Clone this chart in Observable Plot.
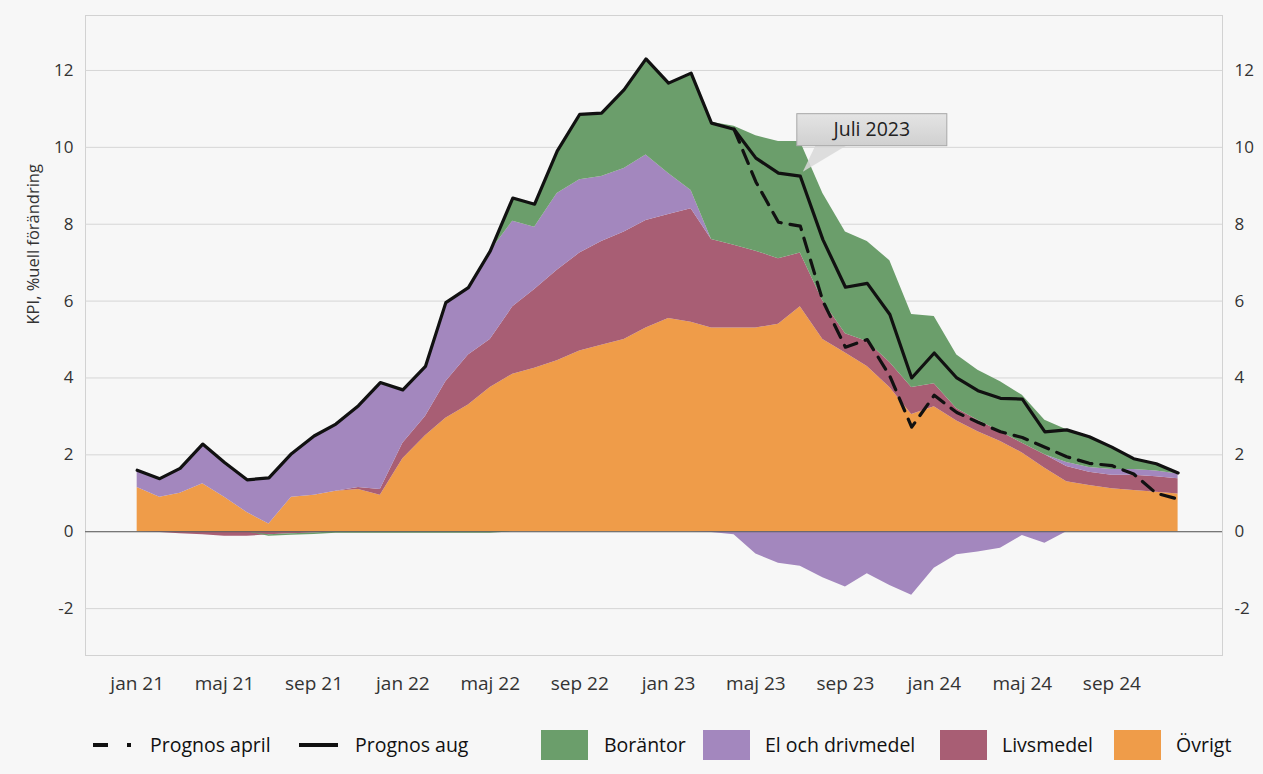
<!DOCTYPE html>
<html><head><meta charset="utf-8">
<script src="https://cdn.jsdelivr.net/npm/d3@7"></script>
<script src="https://cdn.jsdelivr.net/npm/@observablehq/plot@0.6"></script>
<style>
body{margin:0;background:#f7f7f7;font-family:"Open Sans",sans-serif;}
#wrap{width:1263px;}
#legend{position:relative;width:1263px;height:59px;font-size:19.5px;color:#111;}
.it{position:absolute;top:0;}
</style></head><body><div id="wrap"><div id="chart"></div><div id="legend"></div></div>
<script>
// ---- data ----
const months = ["2021-01","2021-02","2021-03","2021-04","2021-05","2021-06","2021-07","2021-08","2021-09","2021-10","2021-11","2021-12",
"2022-01","2022-02","2022-03","2022-04","2022-05","2022-06","2022-07","2022-08","2022-09","2022-10","2022-11","2022-12",
"2023-01","2023-02","2023-03","2023-04","2023-05","2023-06","2023-07","2023-08","2023-09","2023-10","2023-11","2023-12",
"2024-01","2024-02","2024-03","2024-04","2024-05","2024-06","2024-07","2024-08","2024-09","2024-10","2024-11","2024-12"];
const seriesNames = ["Övrigt","Livsmedel","El och drivmedel","Boräntor"];
const ovrigt = [1.15,0.9,1.0,1.25,0.9,0.5,0.2,0.9,0.95,1.05,1.1,0.95,
1.9,2.5,2.95,3.3,3.75,4.1,4.25,4.45,4.7,4.85,5.0,5.3,
5.55,5.45,5.3,5.3,5.3,5.4,5.85,5.0,4.65,4.3,3.75,3.05,
3.25,2.88,2.6,2.35,2.05,1.65,1.3,1.2,1.12,1.07,1.03,0.98];
const livsmedel = [0.0,-0.02,-0.05,-0.08,-0.12,-0.12,-0.08,-0.05,-0.03,0.0,0.05,0.15,
0.4,0.5,0.95,1.3,1.25,1.75,2.05,2.35,2.55,2.7,2.8,2.8,
2.7,2.95,2.3,2.15,2.0,1.7,1.4,1.0,0.5,0.65,0.65,0.7,
0.6,0.32,0.3,0.25,0.25,0.35,0.4,0.35,0.35,0.4,0.4,0.4];
const elDrivmedel = [0.45,0.48,0.65,1.03,0.9,0.85,1.2,1.13,1.54,1.75,2.13,2.78,
1.39,1.3,2.06,1.75,2.3,2.23,1.62,2.0,1.91,1.69,1.65,1.7,
1.07,0.48,-0.02,-0.08,-0.58,-0.82,-0.9,-1.2,-1.44,-1.09,-1.4,-1.65,
-0.95,-0.6,-0.53,-0.43,-0.1,-0.3,0.1,0.12,0.15,0.15,0.15,0.12];
const borantor = [0,0,0,0,0,0,-0.04,-0.04,-0.04,-0.04,-0.04,-0.04,
-0.04,-0.04,-0.04,-0.04,-0.04,0.6,0.6,1.1,1.7,1.65,2.05,2.5,
2.35,3.05,3.05,3.1,3.0,3.05,2.9,2.8,2.65,2.6,2.65,1.9,
1.75,1.4,1.3,1.3,1.25,0.9,0.85,0.8,0.58,0.28,0.19,0.03];
const prognosAug = [1.6,1.38,1.65,2.28,1.8,1.35,1.4,2.03,2.49,2.8,3.28,3.88,
3.69,4.3,5.96,6.35,7.3,8.68,8.52,9.9,10.86,10.89,11.5,12.3,
11.67,11.93,10.63,10.47,9.72,9.33,9.25,7.6,6.36,6.46,5.65,4.0,
4.65,4.0,3.67,3.47,3.45,2.6,2.65,2.47,2.2,1.9,1.77,1.53];
const prognosApril = [null,null,null,null,null,null,null,null,null,null,null,null,
null,null,null,null,null,null,null,null,null,null,null,null,
null,null,null,10.47,9.1,8.05,7.95,6.0,4.8,5.0,4.05,2.72,
3.55,3.1,2.85,2.6,2.45,2.2,1.95,1.78,1.72,1.5,1.0,0.85];
const yTicks = [-2,0,2,4,6,8,10,12];
const monthNames = ["jan","feb","mar","apr","maj","jun","jul","aug","sep","okt","nov","dec"];
const yLabel = "KPI, %uell förändring";
const annotationText = "Juli 2023";
const annotationMonth = "2023-07";
const colors = ["#ef9c49","#a85e74","#a387be","#6b9e6b"];

// ---- build tables ----
const parse = d3.utcParse("%Y-%m");
const dates = months.map(parse);
const seriesValues = [ovrigt, livsmedel, elDrivmedel, borantor];
const posRows = [], negRows = [];
seriesNames.forEach((s, i) => seriesValues[i].forEach((v, j) => {
  posRows.push({date: dates[j], series: s, value: Math.max(v, 0)});
  negRows.push({date: dates[j], series: s, value: Math.min(v, 0)});
}));
const augRows = dates.map((d, j) => ({date: d, value: prognosAug[j]}));
const aprRows = dates.map((d, j) => ({date: d, value: prognosApril[j]}));
const xTicks = dates.filter((d, j) => j % 4 === 0);
const fmt = d => `${monthNames[d.getUTCMonth()]} ${String(d.getUTCFullYear()).slice(2)}`;
const yfmt = d => String(d);

const chart = Plot.plot({
  width: 1263, height: 715,
  marginLeft: 85, marginRight: 41, marginTop: 15, marginBottom: 60,
  style: {background: "transparent", fontFamily: "Open Sans, sans-serif", fontSize: "17px", color: "#333"},
  x: {type: "utc", domain: [new Date(Date.UTC(2020, 9, 22)), new Date(Date.UTC(2025, 0, 31))]},
  y: {domain: [-3.22, 13.43]},
  color: {domain: seriesNames, range: colors},
  marks: [
    Plot.frame({stroke: "#d2d2d2"}),
    Plot.gridY(yTicks, {stroke: "#d6d6d6", strokeOpacity: 1}),
    Plot.areaY(posRows, {x: "date", y: "value", z: "series", fill: "series", order: seriesNames}),
    Plot.areaY(negRows, {x: "date", y: "value", z: "series", fill: "series", order: seriesNames}),
    Plot.ruleY([0], {stroke: "#5a5a5a", strokeWidth: 1}),
    Plot.lineY(aprRows, {x: "date", y: "value", stroke: "#111", strokeWidth: 3.2, strokeDasharray: "14,9"}),
    Plot.lineY(augRows, {x: "date", y: "value", stroke: "#111", strokeWidth: 3.2}),
    Plot.axisY(yTicks, {anchor: "left", tickSize: 0, tickPadding: 12, label: null, tickFormat: yfmt}),
    Plot.axisY(yTicks, {anchor: "right", tickSize: 0, tickPadding: 12, label: null, tickFormat: yfmt}),
    Plot.axisX(xTicks, {tickSize: 0, tickPadding: 21, tickFormat: fmt, label: null, fontSize: 19}),
    Plot.text([yLabel], {text: d => d, frameAnchor: "left", dx: -52, dy: -11, rotate: -90, fontSize: 16.5, fill: "#333"})
  ]
});
document.getElementById("chart").appendChild(chart);

// ---- annotation callout anchored to the July 2023 data point ----
(function(){
  const j = months.indexOf(annotationMonth);
  const px = chart.scale("x").apply(dates[j]);
  const py = chart.scale("y").apply(prognosAug[j]);
  const svg = d3.select(chart);
  const defs = svg.append("defs");
  const g0 = defs.append("linearGradient").attr("id", "boxg").attr("x1", 0).attr("y1", 0).attr("x2", 0).attr("y2", 1);
  g0.append("stop").attr("offset", 0).attr("stop-color", "#e4e4e4");
  g0.append("stop").attr("offset", 1).attr("stop-color", "#d0d0d0");
  const g = svg.append("g");
  g.append("path")
    .attr("d", `M${px+16},${py-31} L${px+48},${py-31} L${px+3},${py-4} Z`)
    .attr("fill", "#d8d8d8").attr("fill-opacity", 0.85);
  g.append("rect").attr("x", px-3).attr("y", py-62).attr("width", 150).attr("height", 32)
    .attr("fill", "url(#boxg)").attr("stroke", "#a8a8a8").attr("stroke-width", 1);
  g.append("text").attr("x", px+72).attr("y", py-46).attr("dy", "0.35em")
    .attr("text-anchor", "middle").attr("font-size", 19.5).attr("fill", "#222")
    .attr("font-family", "Open Sans, sans-serif").text(annotationText);
})();

// ---- legend ----
const legend = document.getElementById("legend");
const items = [
  {type: "dash", left: 93, w: 38, label: "Prognos april", tl: 150},
  {type: "solid", left: 299, w: 39, label: "Prognos aug", tl: 355},
  {type: "sq", left: 541, color: colors[3], label: seriesNames[3], tl: 604},
  {type: "sq", left: 703, color: colors[2], label: seriesNames[2], tl: 765},
  {type: "sq", left: 940, color: colors[1], label: seriesNames[1], tl: 1002},
  {type: "sq", left: 1114, color: colors[0], label: seriesNames[0], tl: 1176}
];
items.forEach(it => {
  if (it.type === "sq") {
    const s = document.createElement("div");
    s.className = "it";
    s.style.cssText = `left:${it.left}px;top:15px;width:47px;height:30px;background:${it.color};`;
    legend.appendChild(s);
  } else {
    const ns = "http://www.w3.org/2000/svg";
    const sv = document.createElementNS(ns, "svg");
    sv.setAttribute("width", it.w); sv.setAttribute("height", 10);
    sv.setAttribute("class", "it");
    sv.style.left = it.left + "px"; sv.style.top = "25px";
    const ln = document.createElementNS(ns, "line");
    ln.setAttribute("x1", 0); ln.setAttribute("x2", it.w); ln.setAttribute("y1", 5); ln.setAttribute("y2", 5);
    ln.setAttribute("stroke", "#111"); ln.setAttribute("stroke-width", 4);
    if (it.type === "dash") ln.setAttribute("stroke-dasharray", "15,19");
    sv.appendChild(ln);
    legend.appendChild(sv);
  }
  const t = document.createElement("div");
  t.className = "it";
  t.style.cssText = `left:${it.tl}px;top:16px;line-height:28px;`;
  t.textContent = it.label;
  legend.appendChild(t);
});
</script></body></html>
